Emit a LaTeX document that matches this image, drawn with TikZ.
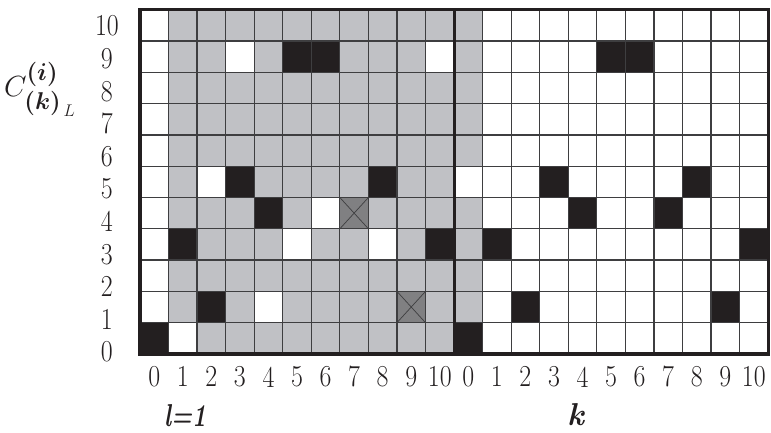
\documentclass[tikz,border=0pt]{standalone}
\usepackage{amsmath}
\usepackage{graphicx}
\usetikzlibrary{calc}
\definecolor{colCell}{RGB}{192,193,197}
\definecolor{colFull}{RGB}{35,31,32}
\definecolor{colMark}{RGB}{128,128,130}
\definecolor{colGrid}{RGB}{62,62,64}
\tikzset{
  gridLine/.style={draw=colGrid, line width=1.1pt},
  frameLine/.style={draw=colFull, line width=2.6pt},
  crossLine/.style={draw=colGrid, line width=0.6pt},
  num/.style={font=\fontsize{26}{26}\selectfont, text=colFull, inner sep=0pt},
  axisLabel/.style={font=\fontsize{27}{27}\selectfont, text=colFull, inner sep=0pt}
}
\newcommand{\nrw}[1]{\scalebox{0.85}[1]{#1}}
\begin{document}
\begin{tikzpicture}[x=0.8565cm, y=0.939cm]
  \useasboundingbox (-4.904,-2.524) rectangle (22.102,11.31);

  % grey cells: l=1 block and first column of the k block
  \fill[colCell] (1,0) rectangle (11,11);
  \fill[colCell] (11,1) rectangle (12,5);
  \fill[colCell] (11,6) rectangle (12,11);

  % white cells inside the grey block
  \foreach \c/\r in {1/0, 3/9, 10/9, 2/5, 6/4, 5/3, 8/3, 4/1}
    \fill[white] (\c,\r) rectangle ++(1,1);

  % black cells
  \foreach \c/\r in {0/0, 5/9, 6/9, 3/5, 8/5, 4/4, 1/3, 10/3, 2/1,
                     11/0, 16/9, 17/9, 14/5, 19/5, 15/4, 18/4, 12/3, 21/3, 13/1, 20/1}
    \fill[colFull] (\c,\r) rectangle ++(1,1);

  % crossed cells
  \foreach \c/\r in {7/4, 9/1} {
    \fill[colMark] (\c,\r) rectangle ++(1,1);
    \draw[crossLine] (\c,\r) -- ++(1,1) (\c+1,\r) -- ++(-1,1);
  }

  % grid and frame
  \foreach \c in {1,...,21}
    \draw[gridLine] (\c,0) -- (\c,11);
  \foreach \r in {1,...,10}
    \draw[gridLine] (0,\r) -- (22,\r);
  \draw[frameLine] (0,0) rectangle (22,11);
  \draw[frameLine] (11,0) -- (11,11);

  % row numbers
  \foreach \r in {0,...,10}
    \node[num] (row\r) at (-1.16, 0.064+1.0415*\r) {\nrw{\r}};

  % column numbers
  \foreach \k in {0,...,10} {
    \node[num] (lk\k) at (\k+0.5, -0.73) {\nrw{\k}};
    \node[num] (rk\k) at (\k+11.5, -0.73) {\nrw{\k}};
  }

  % axis labels
  \node[axisLabel, font=\fontsize{31}{31}\selectfont] (clabel) at (-3.5, 8.45)
    {$C^{\boldsymbol{(i)}}_{\boldsymbol{(k)}_{\,L}}$};
  \node[axisLabel] (llabel) at (1.58, -1.98) {\scalebox{0.75}[1]{\textbf{\textit{l=1}}}};
  \node[axisLabel] (klabel) at (15.27, -1.93) {\textbf{\textit{k}}};

\end{tikzpicture}
\end{document}
